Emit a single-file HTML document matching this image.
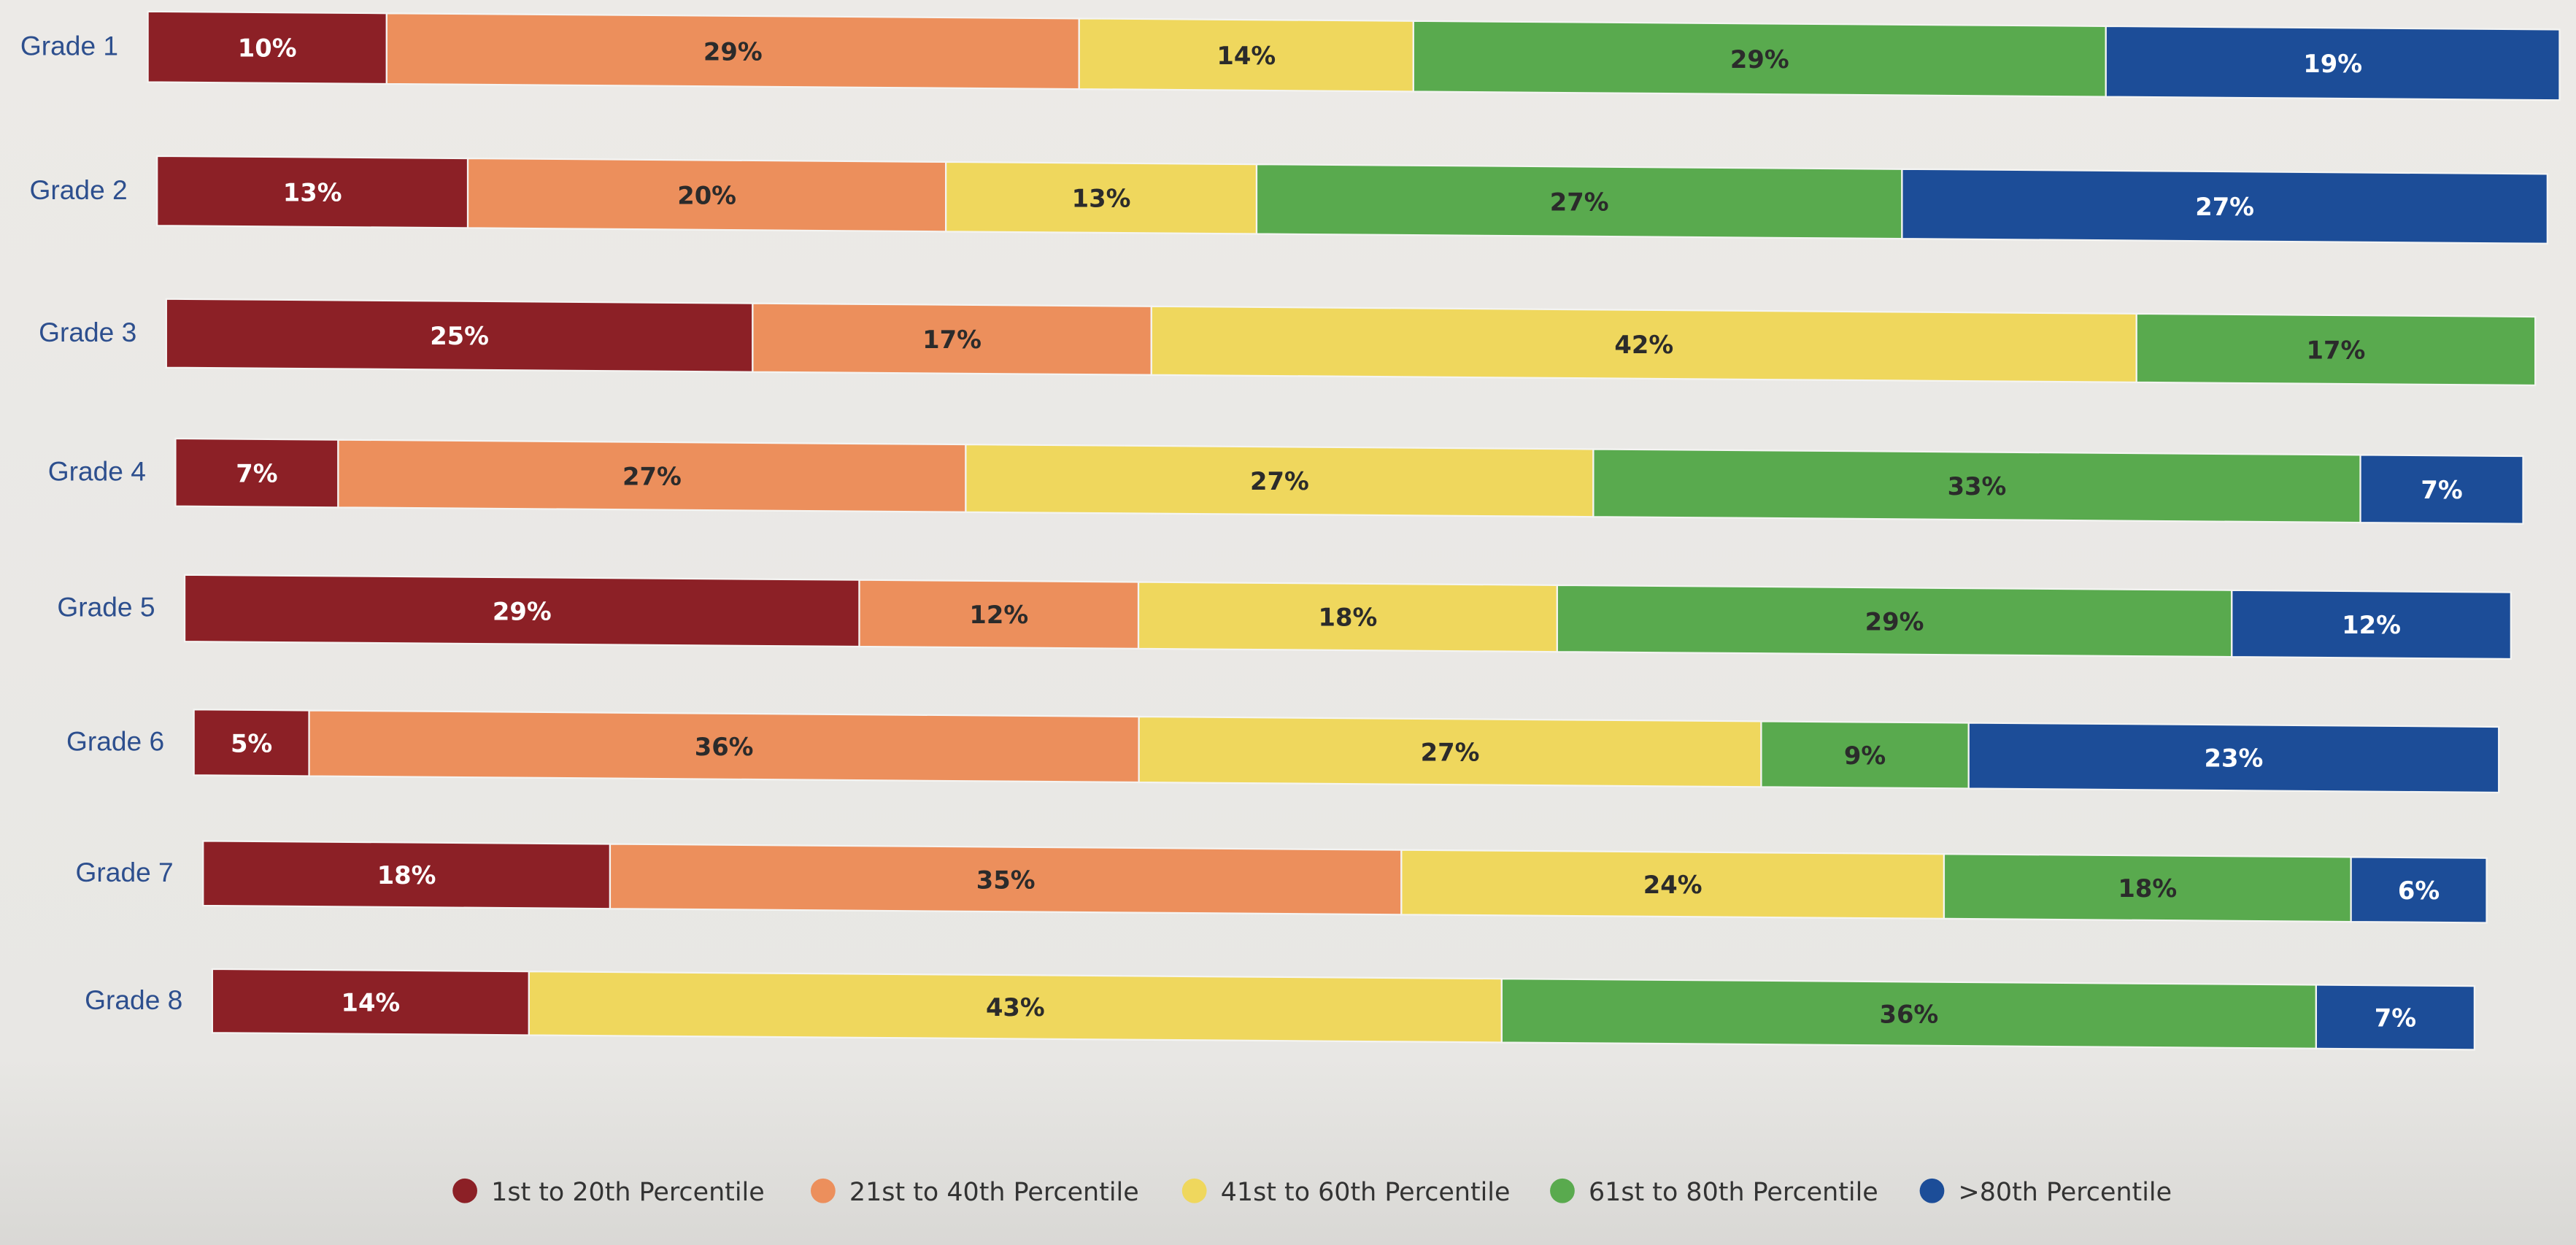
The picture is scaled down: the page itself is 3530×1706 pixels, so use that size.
<!DOCTYPE html>
<html><head><meta charset="utf-8"><style>
html,body{margin:0;padding:0;background:#e9e9e6;}
svg{display:block;}
</style></head><body>
<svg id="chart" width="3530" height="1706" viewBox="0 0 1568 758" preserveAspectRatio="none" xmlns="http://www.w3.org/2000/svg">
<defs><linearGradient id="bg" x1="0" y1="0" x2="0" y2="1"><stop offset="0" stop-color="#eceae7"/><stop offset="0.85" stop-color="#e8e7e4"/><stop offset="1" stop-color="#d9d8d5"/></linearGradient></defs>
<rect width="1568" height="758" fill="url(#bg)"/>
<g id="bars"></g>
<g id="legend"></g>
</svg>
<script>
const categories = ["Grade 1","Grade 2","Grade 3","Grade 4","Grade 5","Grade 6","Grade 7","Grade 8"];
const seriesNames = ["1st to 20th Percentile","21st to 40th Percentile","41st to 60th Percentile","61st to 80th Percentile",">80th Percentile"];
const p1to20 = [10,13,25,7,29,5,18,14];
const p21to40 = [29,20,17,27,12,36,35,0];
const p41to60 = [14,13,42,27,18,27,24,43];
const p61to80 = [29,27,17,33,29,9,18,36];
const pAbove80 = [19,27,0,7,12,23,6,7];
const series = [p1to20,p21to40,p41to60,p61to80,pAbove80];
const colors = ["#8c2026","#ec8f5c","#efd75d","#59aa4e","#1c4d98"];
const textColors = ["#fff","#2b2b2b","#2b2b2b","#2b2b2b","#fff"];
// layout (perspective of the photo)
const rowTops = [7,95,182,267,350,432,512,590];
const rowLeft = i => 90 + i*5.6;
const rowRight = i => 1558 - i*7.4;
const rowTop = i => rowTops[i];
const rowH = i => 43 - i*0.6;
const tilt = 11/1468;
const NS = "http://www.w3.org/2000/svg";
const gb = document.getElementById('bars');
categories.forEach((cat,i)=>{
  const L=rowLeft(i), R=rowRight(i), T=rowTop(i), H=rowH(i);
  let total=0; series.forEach(s=>total+=s[i]);
  const xs = v => L + (R-L)*v/total;
  const yAt = x => T + (x-L)*tilt;
  const lab=document.createElementNS(NS,'text');
  
  
  lab.setAttribute('x',L-18);lab.setAttribute('y',T+H/2+5);
  lab.setAttribute('text-anchor','end');lab.setAttribute('font-size','16.5');
  lab.setAttribute('font-family','"Liberation Sans",sans-serif');lab.setAttribute('fill','#2d4f8e');
  lab.textContent=cat;gb.appendChild(lab);
  let acc=0;
  series.forEach((s,k)=>{
    const v=s[i]; if(!v) return;
    const x0=xs(acc), x1=xs(acc+v); acc+=v;
    const poly=document.createElementNS(NS,'polygon');
    
    
    poly.setAttribute('points',`${x0},${yAt(x0)} ${x1},${yAt(x1)} ${x1},${yAt(x1)+H} ${x0},${yAt(x0)+H}`);
    poly.setAttribute('fill',colors[k]);poly.setAttribute('stroke','#f4f4f2');poly.setAttribute('stroke-width','1');
    gb.appendChild(poly);
    const t=document.createElementNS(NS,'text');
    
    
    const cx=(x0+x1)/2;
    t.setAttribute('x',cx);t.setAttribute('y',yAt(cx)+H/2+5.5);
    t.setAttribute('text-anchor','middle');t.setAttribute('font-size','15');t.setAttribute('font-weight','bold');
    t.setAttribute('font-family','"DejaVu Sans","Liberation Sans",sans-serif');t.setAttribute('fill',textColors[k]);
    t.textContent=v+'%';gb.appendChild(t);
  });
});
const gl=document.getElementById('legend');
const legX=[283,501,727,951,1176];
seriesNames.forEach((n,k)=>{
  const g=document.createElementNS(NS,'g');
  
  
  const c=document.createElementNS(NS,'circle');
  c.setAttribute('cx',legX[k]);c.setAttribute('cy',725);c.setAttribute('r',7.5);c.setAttribute('fill',colors[k]);
  g.appendChild(c);
  const t=document.createElementNS(NS,'text');
  t.setAttribute('x',legX[k]+16);t.setAttribute('y',731);t.setAttribute('font-size','15.5');
  t.setAttribute('font-family','"DejaVu Sans","Liberation Sans",sans-serif');t.setAttribute('fill','#333');
  t.textContent=n;g.appendChild(t);gl.appendChild(g);
});
</script>
</body></html>
